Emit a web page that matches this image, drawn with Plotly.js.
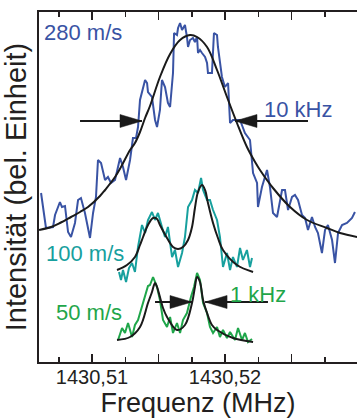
<!DOCTYPE html>
<html>
<head>
<meta charset="utf-8">
<script src="https://cdn.plot.ly/plotly-3.0.1.min.js"></script>
<style>
  html, body { margin: 0; padding: 0; background: #ffffff; }
  #chart { width: 357px; height: 419px; }
</style>
</head>
<body>
<div id="chart"></div>
<script>
// Frequencies are offsets in kHz from 1430.500 MHz; intensities in arbitrary units.
const BASE_MHZ = 1430.5;

// 280 m/s measured spectrum
const det280 = [6.17,6.54,7.07,7.22,7.59,7.74,7.97,8.20,8.42,8.72,8.95,9.17,9.47,9.85,10.08,10.30,10.45,10.68,10.98,11.20,11.43,11.73,12.11,12.33,12.56,12.86,13.08,13.31,13.46,13.61,13.99,14.14,14.21,14.51,14.74,14.89,15.11,15.26,15.49,15.71,15.87,16.09,16.17,16.39,16.47,16.62,16.77,16.99,17.14,17.22,17.37,17.59,17.74,17.90,17.97,18.12,18.27,18.50,18.65,18.72,19.02,19.17,19.40,19.47,19.77,20.00,20.23,20.38,20.60,20.90,21.13,21.50,21.88,22.11,22.41,22.48,22.78,23.16,23.38,23.61,23.91,24.29,24.51,24.74,25.04,25.26,25.49,25.79,26.02,26.24,26.54,26.77,26.99,27.29,27.52,27.74,28.05,28.27,28.50,28.80,29.17,29.55,29.77];
const int280 = [16.9,13.4,13.5,14.7,16.0,15.5,15.6,13.0,12.5,13.9,16.2,16.4,14.9,12.4,14.9,16.5,20.2,19.9,18.2,18.5,17.9,18.2,20.4,19.5,18.2,20.2,22.4,22.4,23.5,26.2,28.2,27.9,27.0,26.5,24.2,23.5,25.2,28.2,27.5,25.9,25.5,28.9,32.9,32.7,33.4,33.9,33.2,33.7,32.5,31.5,32.2,32.4,32.0,32.5,30.9,31.2,30.9,30.5,29.9,28.9,28.9,32.9,32.7,31.5,28.5,27.5,27.9,23.9,24.2,24.2,24.2,22.9,22.2,18.9,17.9,15.5,17.5,19.2,17.5,14.9,14.5,17.2,17.2,15.2,16.5,16.7,16.2,14.7,14.4,13.2,14.5,13.5,12.9,10.9,13.2,13.7,12.2,9.9,12.9,13.7,13.9,14.4,15.0];
// 280 m/s fit
const fitDet280 = [6.02,6.92,7.59,8.42,9.10,9.70,10.60,10.98,11.73,12.18,12.86,13.23,13.61,13.99,14.36,15.11,15.87,16.62,17.37,17.90,18.65,19.40,20.15,20.90,21.65,22.26,22.63,23.61,24.89,26.17,27.67,28.65,29.93];
const fitInt280 = [13.2,13.5,13.9,14.5,15.0,15.5,16.6,17.2,18.5,19.5,21.2,21.9,23.0,24.4,25.6,28.5,30.8,32.2,32.7,32.5,31.5,29.2,26.5,23.9,21.5,20.0,19.2,17.4,15.5,14.2,13.4,12.9,12.5];

// 100 m/s measured spectrum
const det100 = [12.03,12.18,12.33,12.56,12.78,13.01,13.23,13.46,13.76,13.99,14.21,14.51,14.74,14.96,15.26,15.49,15.71,16.02,16.24,16.47,16.77,16.99,17.22,17.52,17.74,17.97,18.20,18.35,18.65,18.87,19.10,19.40,19.62,19.85,20.15,20.38,20.60,20.90,21.13,21.35,21.65,21.88,22.03];
const int100 = [9.0,8.2,9.2,8.0,9.4,9.9,9.0,11.5,13.7,12.9,14.2,15.0,14.2,14.9,13.5,12.5,13.5,10.5,11.2,9.5,10.9,12.5,15.5,16.2,17.2,16.9,18.4,17.2,16.2,16.2,15.2,14.2,12.5,9.5,10.9,9.2,10.5,9.5,11.4,10.2,11.2,9.5,10.4];
// 100 m/s fit
const fitDet100 = [11.88,12.63,13.23,13.61,13.84,14.21,14.59,14.89,15.11,15.64,16.09,16.47,16.84,17.22,17.52,17.74,17.97,18.27,18.50,18.72,19.10,19.47,19.85,20.90,22.11];
const fitInt100 = [9.2,9.7,10.5,11.7,12.5,13.7,14.4,14.3,13.7,12.4,11.5,11.3,11.5,12.2,13.5,15.4,17.0,17.7,17.2,15.9,13.9,12.4,11.2,9.7,9.0];

// 50 m/s measured spectrum
const det50 = [11.96,12.26,12.48,12.71,13.01,13.23,13.46,13.76,13.99,14.21,14.36,14.59,14.89,15.11,15.34,15.64,15.87,16.09,16.39,16.62,16.84,17.14,17.44,17.67,17.90,18.12,18.35,18.65,18.87,19.10,19.40,19.62,19.85,20.15,20.38,20.75,20.98,21.28,21.50,21.73,22.03];
const int50 = [2.2,3.4,2.9,3.9,2.5,3.7,4.2,5.5,6.5,7.6,7.7,8.5,7.5,6.2,4.2,3.5,4.5,2.9,3.9,2.9,4.2,4.9,6.5,7.5,8.9,8.2,5.9,4.9,3.5,2.9,3.5,2.5,3.2,2.4,3.0,2.2,3.4,2.2,2.9,2.0,2.3];
// 50 m/s fit
const fitDet50 = [11.88,12.86,13.61,14.21,14.51,14.74,14.89,15.11,15.34,15.64,16.39,16.99,17.52,17.74,17.90,18.12,18.35,18.65,19.02,19.40,20.60,22.11];
const fitInt50 = [2.2,2.5,3.5,5.9,7.0,7.9,7.5,6.5,5.4,4.5,3.2,3.7,5.9,7.5,8.5,8.0,6.2,4.9,3.7,3.2,2.4,2.0];

// width markers: [shaft start, arrow tip] in kHz, and height
const arrows = [
  {from: 9.10,  tip: 13.76, y: 24.1},
  {from: 26.24, tip: 20.75, y: 24.1},
  {from: 14.74, tip: 17.52, y: 6.0},
  {from: 23.23, tip: 18.50, y: 6.0}
];

// text labels
const labels = [
  {text: '280 m/s', x: 6.32,  y: 33.0, color: '#3953a4'},
  {text: '10 kHz',  x: 22.86, y: 25.3, color: '#3953a4'},
  {text: '100 m/s', x: 6.47,  y: 10.9, color: '#17a09e'},
  {text: '50 m/s',  x: 7.22,  y: 5.0,  color: '#1fa64a'},
  {text: '1 kHz',   x: 20.30, y: 6.8,  color: '#1fa64a'}
];

const toMHz = arr => arr.map(k => BASE_MHZ + k / 1000);

const BLUE = '#3953a4', TEAL = '#17a09e', GREEN = '#1fa64a', FIT = '#1a1a1a';

const traces = [
  {x: toMHz(det280), y: int280, mode: 'lines', line: {color: BLUE, width: 2}, name: '280 m/s'},
  {x: toMHz(fitDet280), y: fitInt280, mode: 'lines', line: {color: FIT, width: 2, shape: 'spline'}, name: 'Fit 280 m/s'},
  {x: toMHz(det100), y: int100, mode: 'lines', line: {color: TEAL, width: 2}, name: '100 m/s'},
  {x: toMHz(fitDet100), y: fitInt100, mode: 'lines', line: {color: FIT, width: 2, shape: 'spline'}, name: 'Fit 100 m/s'},
  {x: toMHz(det50), y: int50, mode: 'lines', line: {color: GREEN, width: 2}, name: '50 m/s'},
  {x: toMHz(fitDet50), y: fitInt50, mode: 'lines', line: {color: FIT, width: 2, shape: 'spline'}, name: 'Fit 50 m/s'}
];

const shapes = [];
arrows.forEach(a => {
  const dir = a.tip > a.from ? 1 : -1;
  shapes.push({type: 'line', xref: 'x', yref: 'y',
    x0: BASE_MHZ + a.from / 1000, x1: BASE_MHZ + a.tip / 1000 - dir * 0.000005, y0: a.y, y1: a.y,
    line: {color: FIT, width: 2}});
  shapes.push({type: 'path', xref: 'x', yref: 'y',
    xsizemode: 'pixel', ysizemode: 'pixel',
    xanchor: BASE_MHZ + a.tip / 1000, yanchor: a.y,
    path: dir > 0 ? 'M0,0 L-22,6.5 L-22,-6.5 Z' : 'M0,0 L22,6.5 L22,-6.5 Z',
    fillcolor: FIT, line: {color: FIT, width: 0.5}});
});

const annotations = labels.map(l => ({
  text: l.text, x: BASE_MHZ + l.x / 1000, y: l.y, xref: 'x', yref: 'y',
  xanchor: 'left', yanchor: 'middle', showarrow: false, borderpad: 0,
  font: {family: 'Liberation Sans, Arial, sans-serif', size: 22, color: l.color}
}));

const layout = {
  width: 357, height: 419,
  margin: {l: 39, r: 0, t: 12, b: 57},
  paper_bgcolor: '#ffffff', plot_bgcolor: '#ffffff',
  showlegend: false,
  font: {family: 'Liberation Sans, Arial, sans-serif', color: '#231f20'},
  xaxis: {
    range: [BASE_MHZ + 6.015 / 1000, BASE_MHZ + 29.925 / 1000],
    tickvals: [1430.51, 1430.515, 1430.52, 1430.525],
    ticktext: ['1430,51', '', '1430,52', ''],
    ticks: 'inside', ticklen: 8, tickwidth: 1.5, tickcolor: '#231f20',
    ticklabelstandoff: -4,
    minor: {dtick: 0.0025, tick0: 1430.5, ticks: 'inside', ticklen: 5, tickwidth: 1.5, tickcolor: '#231f20'},
    showline: true, linecolor: '#231f20', linewidth: 2, mirror: 'ticks',
    showgrid: false, zeroline: false,
    tickfont: {size: 20, color: '#231f20'},
    title: {text: 'Frequenz (MHz)', font: {size: 27, color: '#231f20'}, standoff: 2}
  },
  yaxis: {
    range: [0, 35],
    showticklabels: false, ticks: '',
    showline: true, linecolor: '#231f20', linewidth: 2,
    showgrid: false, zeroline: false,
    title: {text: 'Intensität (bel. Einheit)', font: {size: 29, color: '#231f20'}, standoff: 4}
  },
  shapes: shapes,
  annotations: annotations
};

Plotly.newPlot('chart', traces, layout, {displayModeBar: false, staticPlot: true});
</script>
</body>
</html>
